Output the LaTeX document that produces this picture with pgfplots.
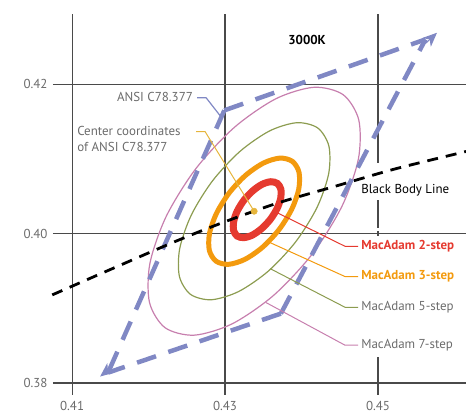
\documentclass[border=0pt]{standalone}
\usepackage{fontspec}
\setmainfont{PT Sans}
\usepackage{pgfplots}
\pgfplotsset{compat=1.18}
\usetikzlibrary{arrows.meta}

\definecolor{ansi}{HTML}{8088C4}
\definecolor{pinkE}{HTML}{C77FAE}
\definecolor{greenE}{HTML}{8C9C50}
\definecolor{orangeE}{HTML}{F39A0E}
\definecolor{redE}{HTML}{E53A2F}
\definecolor{yellowC}{HTML}{E6B53C}
\definecolor{gridC}{HTML}{4A4A4A}
\definecolor{txt}{HTML}{6B6B6B}

\begin{document}
\begin{tikzpicture}[font=\fontsize{13}{16}\selectfont]
\begin{axis}[
  at={(0,0)}, anchor=south west,
  scale only axis, width=413bp, height=381bp,
  xmin=0.4075, xmax=0.4615, ymin=0.3784, ymax=0.4294,
  axis line style={draw=none},
  xtick={0.41,0.43,0.45}, ytick={0.38,0.40,0.42},
  xticklabels={0.41,0.43,0.45}, yticklabels={0.38,0.40,0.42},
  major tick length=0pt,
  grid=major, grid style={gridC, line width=1.2bp},
  tick label style={txt, font=\fontsize{13}{16}\selectfont},
  xticklabel style={yshift=-3bp},
  yticklabel style={xshift=-2bp},
  clip=false,
]
% white gaps in the 0.45 grid line behind labels
\fill[white] (axis cs:0.4496,0.3835) rectangle (axis cs:0.4504,0.3997);
\fill[white] (axis cs:0.4496,0.4003) rectangle (axis cs:0.4504,0.4008);
\fill[white] (axis cs:0.4496,0.40455) rectangle (axis cs:0.4504,0.4095);

% MacAdam 7-step
\addplot[pinkE, line width=1.2bp, smooth cycle] coordinates {
(0.44545,0.41859) (0.44164,0.41959) (0.43665,0.41806) (0.43122,0.41423)
(0.42618,0.40870) (0.42230,0.40230) (0.42017,0.39601) (0.42012,0.39078)
(0.42215,0.38741) (0.42596,0.38641) (0.43095,0.38794) (0.43638,0.39177)
(0.44142,0.39730) (0.44530,0.40370) (0.44743,0.40999) (0.44748,0.41522)};
% MacAdam 5-step
\addplot[greenE, line width=1.2bp, smooth cycle] coordinates {
(0.44212,0.41414) (0.43940,0.41485) (0.43584,0.41376) (0.43196,0.41102)
(0.42836,0.40707) (0.42559,0.40250) (0.42407,0.39801) (0.42403,0.39427)
(0.42548,0.39187) (0.42820,0.39115) (0.43177,0.39225) (0.43565,0.39498)
(0.43925,0.39893) (0.44202,0.40350) (0.44354,0.40800) (0.44357,0.41173)};
% MacAdam 3-step
\addplot[orangeE, line width=5bp, smooth cycle] coordinates {
(0.43879,0.40968) (0.43716,0.41011) (0.43502,0.40945) (0.43269,0.40781)
(0.43053,0.40544) (0.42887,0.40270) (0.42796,0.40000) (0.42794,0.39776)
(0.42881,0.39632) (0.43044,0.39589) (0.43258,0.39655) (0.43491,0.39819)
(0.43707,0.40056) (0.43873,0.40330) (0.43964,0.40600) (0.43966,0.40824)};
% MacAdam 2-step
\addplot[redE, line width=7bp, smooth cycle] coordinates {
(0.43683,0.40672) (0.43597,0.40695) (0.43484,0.40660) (0.43362,0.40573)
(0.43248,0.40449) (0.43160,0.40304) (0.43112,0.40162) (0.43111,0.40044)
(0.43157,0.39968) (0.43243,0.39946) (0.43356,0.39980) (0.43478,0.40067)
(0.43592,0.40191) (0.43680,0.40336) (0.43728,0.40478) (0.43729,0.40596)};

% ANSI C78.377 quadrangle
\addplot[ansi, line width=4.5bp, dash pattern=on 20bp off 13bp] coordinates {(0.4299,0.4165) (0.4562,0.4260)};
\addplot[ansi, line width=4.5bp, dash pattern=on 20bp off 13bp] coordinates {(0.4299,0.4165) (0.4147,0.3814)};
\addplot[ansi, line width=4.5bp, dash pattern=on 20bp off 13bp] coordinates {(0.4373,0.3893) (0.4562,0.4260)};
\addplot[ansi, line width=4.5bp, dash pattern=on 20bp off 13bp] coordinates {(0.4373,0.3893) (0.4147,0.3814)};
\addplot[ansi, line width=1bp, -{Stealth[length=14bp, width=12bp, inset=4bp]}] coordinates {(0.45618,0.42543) (0.45771,0.42689)};
\addplot[ansi, line width=1bp, -{Stealth[length=14bp, width=12bp, inset=4bp]}] coordinates {(0.41529,0.38221) (0.41366,0.38087)};

% Black body line
\addplot[black, line width=2.8bp, dash pattern=on 11bp off 8bp, smooth] coordinates {
(0.4074,0.3918) (0.4150,0.3952) (0.4236,0.3990) (0.4300,0.4016) (0.4369,0.4041)
(0.4446,0.4064) (0.4520,0.4086) (0.4599,0.4106) (0.4615,0.4110)};

% leaders
\draw[ansi, line width=1.2bp] (axis cs:0.42634,0.41819) -- (axis cs:0.42752,0.41819) -- (axis cs:0.42935,0.41579);
\draw[yellowC, line width=1bp] (axis cs:0.42621,0.41365) -- (axis cs:0.42739,0.41365) -- (axis cs:0.4338,0.4030);
\draw[redE, line width=1bp] (axis cs:0.43680,0.40281) -- (axis cs:0.44569,0.39830) -- (axis cs:0.44739,0.39830);
\draw[orangeE, line width=1bp] (axis cs:0.43588,0.39880) -- (axis cs:0.44569,0.39425) -- (axis cs:0.44739,0.39425);
\draw[greenE, line width=1bp] (axis cs:0.43588,0.39532) -- (axis cs:0.44569,0.39014) -- (axis cs:0.44739,0.39014);
\draw[pinkE, line width=1bp] (axis cs:0.43536,0.39077) -- (axis cs:0.44569,0.38506) -- (axis cs:0.44739,0.38506);

% center dot
\addplot[only marks, mark=*, mark size=3.2bp, color=yellowC] coordinates {(0.4338,0.4030)};

% labels
\node[font=\fontsize{13}{16}\selectfont\bfseries, inner sep=0pt] at (axis cs:0.44072,0.42595) {3000K};
\node[txt, anchor=east, inner sep=0pt] at (axis cs:0.42582,0.41833) {ANSI C78.377};
\node[txt, anchor=west, align=left, inner sep=0pt] at (axis cs:0.41065,0.41271) {Center coordinates\\of ANSI C78.377};
\node[anchor=west, inner sep=0pt] at (axis cs:0.44778,0.40575) {Black Body Line};
\node[redE, font=\fontsize{13}{16}\selectfont\bfseries, anchor=west, inner sep=0pt] at (axis cs:0.44778,0.39830) {MacAdam 2-step};
\node[orangeE, font=\fontsize{13}{16}\selectfont\bfseries, anchor=west, inner sep=0pt] at (axis cs:0.44778,0.39425) {MacAdam 3-step};
\node[txt, anchor=west, inner sep=0pt] at (axis cs:0.44778,0.39014) {MacAdam 5-step};
\node[txt, anchor=west, inner sep=0pt] at (axis cs:0.44778,0.38506) {MacAdam 7-step};
\end{axis}
\pgfresetboundingbox
\path (-53bp,-24bp) rectangle (413bp,395bp);
\end{tikzpicture}
\end{document}
